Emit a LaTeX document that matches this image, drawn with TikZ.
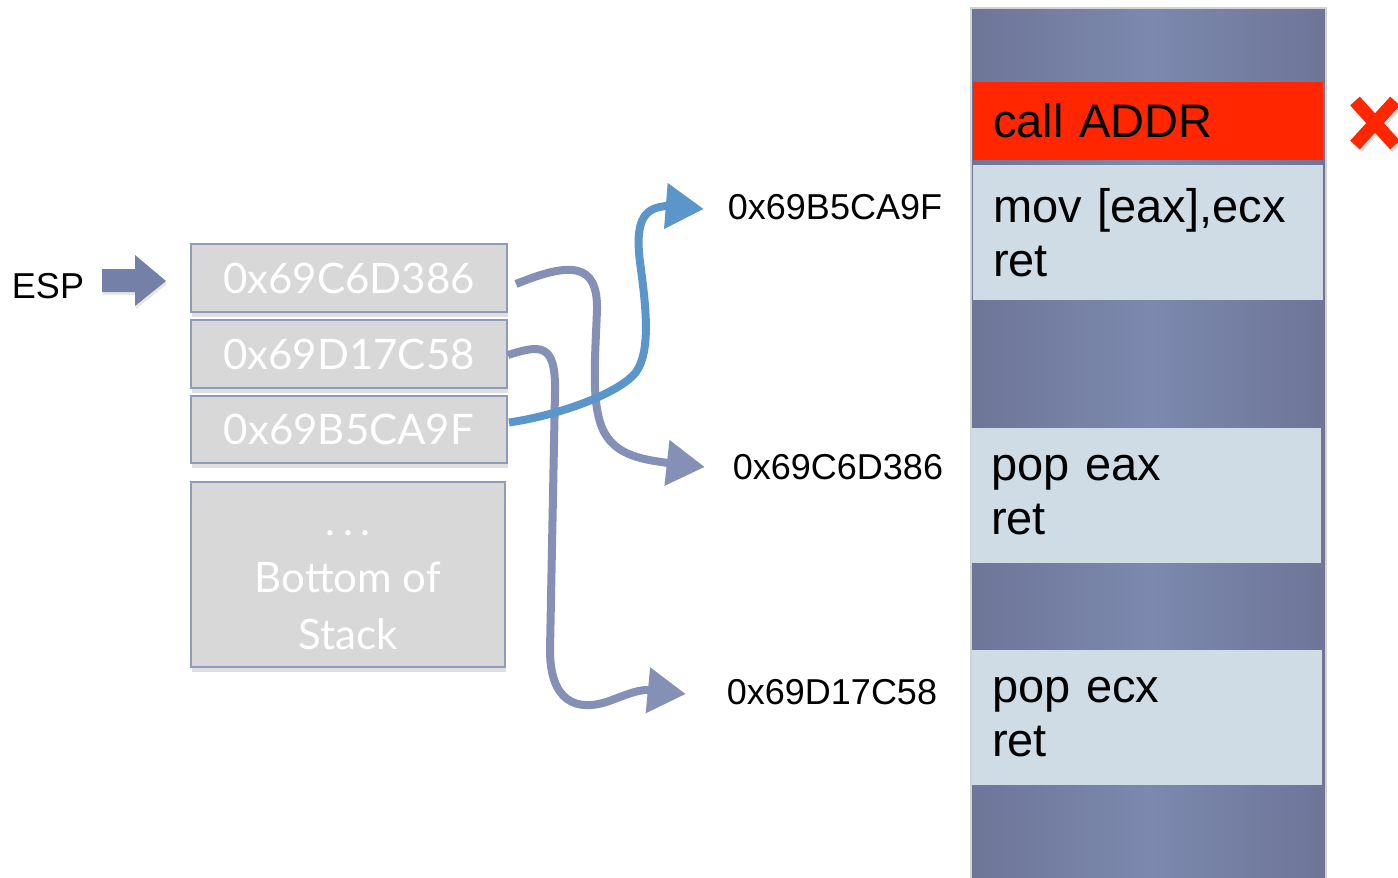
\documentclass[tikz,border=0pt]{standalone}
\usepackage{fontspec}
\setmainfont{Liberation Sans}
\newfontfamily\stackfont{Lato}
\usetikzlibrary{arrows.meta,shadows,positioning}

\definecolor{slotfill}{RGB}{216,216,216}
\definecolor{slotline}{RGB}{142,155,189}
\definecolor{linkgray}{RGB}{132,144,181}
\definecolor{linkblue}{RGB}{91,150,203}
\definecolor{gadfill}{RGB}{207,220,229}
\definecolor{callred}{RGB}{255,38,0}
\definecolor{colA}{RGB}{110,118,152}
\definecolor{colB}{RGB}{124,136,174}
\definecolor{esparrow}{RGB}{117,128,168}

\tikzset{
	stacktext/.style={text=white, align=center, font=\stackfont\fontsize{42}{57}\selectfont},
	slot/.style={stacktext, draw=slotline, line width=2pt, fill=slotfill, minimum width=316pt,
		drop shadow={shadow xshift=1pt, shadow yshift=-5pt, opacity=.25}},
	gadget/.style={fill=gadfill, minimum width=350pt, text width=310pt, inner xsep=20pt, align=left,
		font=\fontsize{47}{54}\selectfont},
	addr/.style={inner sep=0pt, font=\fontsize{36}{40}\selectfont},
	link/.style={line width=8pt, draw=linkgray, -{Triangle[length=38pt,width=44pt]}},
}

\begin{document}
\begin{tikzpicture}[x=1pt,y=-1pt]
		\useasboundingbox (0,0) rectangle (1398,878);
		% code column
		\shade[left color=colA, right color=colA, middle color=colB] (971,8) rectangle (1326,878);
		\draw[gray!35, line width=1.5pt] (971,878) -- (971,8) -- (1326,8) -- (1326,878);
		\node[gadget, fill=callred, minimum height=78pt] (call) at (1148,121) {call ADDR};
		\node[gadget, minimum height=135pt] (mov) at (1148,232.5) {mov [eax],ecx\\ret};
		\node[gadget, minimum height=135pt] (popeax) at (1146,495.5) {pop eax\\ret};
		\node[gadget, minimum height=135pt] (popecx) at (1147,717.5) {pop ecx\\ret};
		%
		\draw[black!30, line width=13pt, opacity=.4] (1357,104) -- (1397,148) (1357,148) -- (1397,104);
		\draw[callred, line width=13pt] (1355,101) -- (1395,145) (1355,145) -- (1395,101);
		% stack
		\node at (48,286) (esp) {\fontsize{36}{40}\selectfont ESP};
		\fill[esparrow, drop shadow={shadow xshift=1pt, shadow yshift=-3pt, opacity=.2}]
			(102,269) -- (135,269) -- (135,255) -- (166,281) -- (135,306) -- (135,292) -- (102,292) -- cycle;
		\node[slot, minimum height=68pt] (s1) at (349,278) {0x69C6D386};
		\node[slot, minimum height=68pt] (s2) at (349,354) {0x69D17C58};
		\node[slot, minimum height=67pt] (s3) at (349,429.5) {0x69B5CA9F};
		\node[slot, minimum height=185pt, minimum width=314pt] (sb) at (348,574.5) {};
		\node[stacktext] (sbtext) at ([yshift=-16pt]sb.center) {.\hspace{8pt}.\hspace{8pt}.\\Bottom of\\Stack};
		% targets
		\node[addr] (tb) at (835,207) {0x69B5CA9F};
		\node[addr] (tc) at (838,467) {0x69C6D386};
		\node[addr] (td) at (832,692) {0x69D17C58};
		%
		\draw[link] ([xshift=8pt,yshift=-6pt]s1.east) .. controls (570,262) and (598,262) .. (597,310)
			.. controls (595,360) and (592,395) .. (600,422) .. controls (610,455) and (640,459) .. (668,463)
			-- ([xshift=-28pt]tc.west);
		\draw[link] ([yshift=-1pt]s2.east) .. controls (540,345) and (556,342) .. (555,392)
			-- (550,650) .. controls (550,700) and (575,714) .. (612,700) .. controls (625,695) and (635,691) .. (645,690)
			-- ([xshift=-41pt,yshift=-2pt]td.west);
		\draw[link, draw=linkblue] ([xshift=1pt,yshift=7pt]s3.east) .. controls (560,415) and (620,393) .. (636,372)
			.. controls (652,350) and (645,300) .. (640,262) .. controls (634,215) and (648,208) .. (666,206)
			-- ([xshift=-24pt,yshift=-2pt]tb.west);
	\end{tikzpicture}
\end{document}
